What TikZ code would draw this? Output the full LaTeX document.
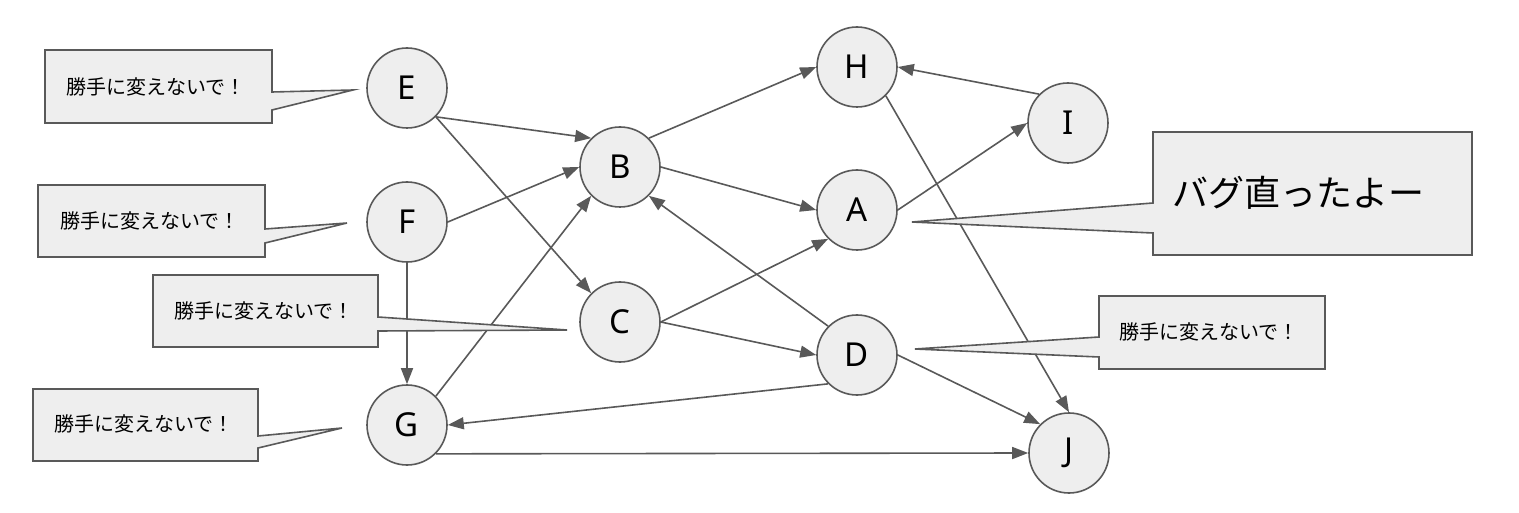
\documentclass[tikz,border=0pt]{standalone}
\usepackage{fontspec}
\setmainfont{Noto Sans}
\newfontfamily\jp{Noto Sans CJK JP}
\usetikzlibrary{arrows.meta}
\definecolor{edgec}{HTML}{595959}
\definecolor{fillc}{HTML}{EEEEEE}
\begin{document}
\begin{tikzpicture}[x=1pt,y=-1pt,
  vert/.style={circle,draw=edgec,fill=fillc,line width=1.6pt,minimum size=80pt,inner sep=0pt,font=\fontsize{33}{33}\selectfont},
  conn/.style={draw=edgec,line width=1.6pt,-{Triangle[length=16pt,width=12pt]}},
  callout/.style={draw=edgec,fill=fillc,line width=1.6pt},
  ctext/.style={font=\jp\fontsize{20}{22}\selectfont,inner sep=0pt},
  btext/.style={font=\jp\fontsize{36}{38}\selectfont,inner sep=0pt}]
\useasboundingbox (0,0) rectangle (1519,513);
% nodes
\node[vert] (E) at (407,88) {E};
\node[vert] (F) at (407,222) {F};
\node[vert] (G) at (407,425) {G};
\node[vert] (B) at (620,167) {B};
\node[vert] (C) at (620,322) {C};
\node[vert] (H) at (857,67) {H};
\node[vert] (A) at (857,210) {A};
\node[vert] (D) at (857,355) {D};
\node[vert] (I) at (1068,123) {I};
\node[vert] (J) at (1069,453) {J};
% edges
\draw[conn] (E.south east) -- (B.north west);
\draw[conn] (E.south east) -- (C.north west);
\draw[conn] (F.east) -- (B.west);
\draw[conn] (F.south) -- (G.north);
\draw[conn] (G.north east) -- (B.south west);
\draw[conn] (G.south east) -- (J.west);
\draw[conn] (B.north east) -- (H.west);
\draw[conn] (B.east) -- (A.west);
\draw[conn] (C.east) -- (A.south west);
\draw[conn] (C.east) -- (D.west);
\draw[conn] (D.north west) -- (B.south east);
\draw[conn] (D.south west) -- (G.east);
\draw[conn] (D.east) -- (J.north west);
\draw[conn] (H.south east) -- (J.north);
\draw[conn] (I.north west) -- (H.east);
\draw[conn] (A.east) -- (I.west);
% callouts
\draw[callout] (45,50) -- (272,50) -- (272,92) -- (353,90) -- (272,110) -- (272,123) -- (45,123) -- cycle;
\node[ctext] (t1) at (156,87) {勝手に変えないで！};
\draw[callout] (38,185) -- (265,185) -- (265,229) -- (347,223) -- (265,243) -- (265,257) -- (38,257) -- cycle;
\node[ctext] (t2) at (150,221) {勝手に変えないで！};
\draw[callout] (153,275) -- (378,275) -- (378,317) -- (567,330) -- (378,331) -- (378,347) -- (153,347) -- cycle;
\node[ctext] (t3) at (264,311) {勝手に変えないで！};
\draw[callout] (33,389) -- (258,389) -- (258,436) -- (342,428) -- (258,448) -- (258,461) -- (33,461) -- cycle;
\node[ctext] (t4) at (144,424) {勝手に変えないで！};
\draw[callout] (1099,296) -- (1325,296) -- (1325,369) -- (1099,369) -- (1099,357) -- (915,349) -- (1099,337) -- cycle;
\node[ctext] (t5) at (1209,332) {勝手に変えないで！};
\draw[callout] (1153,132) -- (1472,132) -- (1472,255) -- (1153,255) -- (1153,233) -- (912,222) -- (1153,203) -- cycle;
\node[btext] (t6) at (1298,193) {バグ直ったよー};
\end{tikzpicture}
\end{document}
